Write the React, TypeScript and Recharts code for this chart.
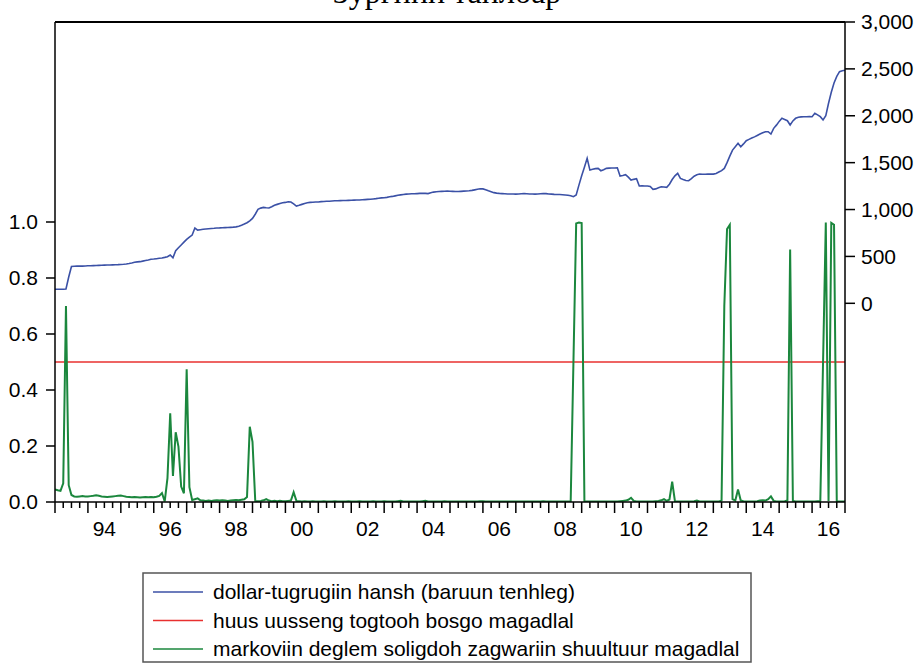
import { LineChart, Line, XAxis, YAxis, ReferenceLine } from "recharts"

const FONT = "'Liberation Sans', Arial, sans-serif"
const START_YEAR = 1993

// dollar-tugrug rate, monthly 1993M01..2017M01 (right axis)
const exchangeRate = [
  150, 150, 150, 150, 152, 280, 392, 395, 396, 396, 397, 398, // 1993
  400, 401, 402, 403, 405, 406, 407, 408, 409, 410, 411, 412, // 1994
  414, 416, 419, 424, 430, 437, 442, 444, 450, 456, 462, 469, // 1995
  472, 476, 480, 484, 490, 497, 515, 486, 560, 592, 622, 652, // 1996
  682, 705, 728, 803, 781, 785, 789, 792, 795, 798, 800, 803, // 1997
  804, 806, 807, 808, 810, 812, 815, 822, 832, 845, 859, 880, // 1998
  906, 950, 1002, 1015, 1023, 1019, 1016, 1030, 1045, 1055, 1065, 1072, // 1999
  1076, 1083, 1080, 1060, 1037, 1045, 1055, 1065, 1072, 1076, 1078, 1080, // 2000
  1081, 1084, 1085, 1088, 1089, 1091, 1093, 1094, 1095, 1096, 1097, 1098, // 2001
  1099, 1100, 1101, 1102, 1104, 1106, 1108, 1110, 1113, 1116, 1120, 1124, // 2002
  1126, 1130, 1136, 1140, 1146, 1152, 1156, 1160, 1164, 1166, 1168, 1168, // 2003
  1170, 1172, 1174, 1172, 1170, 1178, 1186, 1190, 1192, 1194, 1195, 1196, // 2004
  1195, 1194, 1193, 1192, 1194, 1196, 1198, 1200, 1204, 1210, 1216, 1222, // 2005
  1220, 1212, 1200, 1190, 1180, 1175, 1172, 1170, 1168, 1166, 1165, 1165, // 2006
  1164, 1166, 1168, 1170, 1168, 1166, 1165, 1164, 1165, 1168, 1170, 1170, // 2007
  1165, 1164, 1162, 1161, 1160, 1158, 1155, 1152, 1148, 1137, 1155, 1260, // 2008
  1360, 1450, 1546, 1421, 1430, 1436, 1439, 1414, 1425, 1439, 1442, 1443, // 2009
  1443, 1445, 1357, 1362, 1371, 1345, 1315, 1322, 1328, 1251, 1252, 1251, // 2010
  1251, 1245, 1215, 1220, 1232, 1243, 1240, 1237, 1270, 1320, 1360, 1386, // 2011
  1332, 1320, 1310, 1307, 1330, 1355, 1370, 1378, 1376, 1377, 1378, 1379, // 2012
  1378, 1385, 1400, 1415, 1439, 1500, 1570, 1634, 1670, 1706, 1670, 1700, // 2013
  1734, 1748, 1762, 1775, 1790, 1805, 1818, 1830, 1830, 1805, 1866, 1900, // 2014
  1940, 1973, 1960, 1947, 1901, 1945, 1973, 1985, 1988, 1990, 1990, 1992, // 2015
  1990, 2026, 2010, 1990, 1955, 2000, 2133, 2250, 2350, 2420, 2470, 2480, // 2016
  2485, // 2017
]

// markov switching filtered probability (left axis)
const regimeProb = [
  0.045, 0.042, 0.04, 0.067, 0.7, 0.06, 0.025, 0.02, 0.019, 0.02, 0.021, 0.02, // 1993
  0.02, 0.021, 0.022, 0.024, 0.022, 0.02, 0.019, 0.018, 0.019, 0.02, 0.021, 0.022, // 1994
  0.023, 0.021, 0.019, 0.018, 0.017, 0.018, 0.017, 0.016, 0.017, 0.018, 0.017, 0.018, // 1995
  0.017, 0.019, 0.022, 0.032, 0.002, 0.085, 0.317, 0.093, 0.249, 0.198, 0.055, 0.031, // 1996
  0.474, 0.053, 0.007, 0.01, 0.013, 0.006, 0.005, 0.004, 0.005, 0.004, 0.005, 0.006, // 1997
  0.005, 0.006, 0.005, 0.004, 0.005, 0.006, 0.007, 0.006, 0.008, 0.01, 0.018, 0.269, // 1998
  0.215, 0.004, 0.003, 0.004, 0.006, 0.01, 0.005, 0.003, 0.004, 0.003, 0.004, 0.003, // 1999
  0.003, 0.004, 0.005, 0.035, 0.004, 0.003, 0.002, 0.003, 0.002, 0.002, 0.003, 0.002, // 2000
  0.002, 0.002, 0.003, 0.002, 0.002, 0.002, 0.003, 0.002, 0.002, 0.002, 0.002, 0.003, // 2001
  0.002, 0.002, 0.002, 0.003, 0.002, 0.002, 0.002, 0.002, 0.003, 0.002, 0.002, 0.002, // 2002
  0.003, 0.002, 0.002, 0.002, 0.002, 0.003, 0.004, 0.002, 0.002, 0.002, 0.002, 0.002, // 2003
  0.002, 0.002, 0.003, 0.004, 0.002, 0.002, 0.002, 0.002, 0.002, 0.002, 0.003, 0.002, // 2004
  0.002, 0.002, 0.002, 0.002, 0.002, 0.002, 0.002, 0.002, 0.002, 0.002, 0.002, 0.003, // 2005
  0.003, 0.002, 0.002, 0.002, 0.002, 0.002, 0.002, 0.002, 0.002, 0.002, 0.002, 0.002, // 2006
  0.002, 0.002, 0.002, 0.002, 0.002, 0.002, 0.002, 0.002, 0.002, 0.002, 0.003, 0.002, // 2007
  0.002, 0.002, 0.002, 0.002, 0.002, 0.002, 0.002, 0.002, 0.003, 0.5, 0.995, 0.998, // 2008
  0.996, 0.002, 0.002, 0.002, 0.002, 0.002, 0.002, 0.002, 0.002, 0.002, 0.002, 0.002, // 2009
  0.002, 0.002, 0.003, 0.004, 0.005, 0.008, 0.015, 0.004, 0.002, 0.002, 0.002, 0.002, // 2010
  0.002, 0.002, 0.002, 0.003, 0.004, 0.006, 0.01, 0.004, 0.009, 0.073, 0.003, 0.002, // 2011
  0.002, 0.002, 0.002, 0.002, 0.002, 0.003, 0.005, 0.002, 0.002, 0.002, 0.002, 0.002, // 2012
  0.002, 0.002, 0.002, 0.005, 0.7, 0.975, 0.99, 0.01, 0.005, 0.045, 0.005, 0.003, // 2013
  0.002, 0.002, 0.002, 0.002, 0.003, 0.005, 0.006, 0.005, 0.01, 0.02, 0.004, 0.002, // 2014
  0.002, 0.002, 0.003, 0.005, 0.902, 0.004, 0.002, 0.002, 0.002, 0.002, 0.002, 0.002, // 2015
  0.002, 0.002, 0.003, 0.004, 0.5, 0.998, 0.004, 0.997, 0.99, 0.002, 0.002, 0.002, // 2016
  0.002, // 2017
]

const THRESHOLD = 0.5

const leftTicks = [0, 0.2, 0.4, 0.6, 0.8, 1.0]
const rightTicks = [0, 500, 1000, 1500, 2000, 2500, 3000]
const labelYears = [1994, 1996, 1998, 2000, 2002, 2004, 2006, 2008, 2010, 2012, 2014, 2016]
const yearLabels = ["94", "96", "98", "00", "02", "04", "06", "08", "10", "12", "14", "16"]

const legendItems = [
  { name: "dollar-tugrugiin hansh (baruun tenhleg)", color: "#3b51a6" },
  { name: "huus uusseng togtooh bosgo magadlal", color: "#e8302f" },
  { name: "markoviin deglem soligdoh zagwariin shuultuur magadlal", color: "#1b873d" },
]

const data = exchangeRate.map((rate, i) => ({
  t: START_YEAR + i / 12,
  rate,
  prob: regimeProb[i],
  threshold: THRESHOLD,
}))

const quarterTicks: number[] = []
for (let q = 0; q <= (2017 - START_YEAR) * 4; q++) quarterTicks.push(START_YEAR + q / 4)

const LEFT_MAX = 480 / 280

function XTick(props: any) {
  const { x, y, payload } = props
  const v = payload.value
  const yr = Math.floor(v + 1e-6)
  const frac = v - yr
  const major = Math.abs(frac) < 1e-6
  const idx = Math.abs(frac - 0.5) < 1e-6 ? labelYears.indexOf(yr) : -1
  return (
    <g>
      <line x1={x} x2={x} y1={y} y2={y + (major ? 11 : 6)} stroke="#000" strokeWidth={1.5} />
      {idx >= 0 && (
        <text x={x} y={y + 34} textAnchor="middle" fontSize={21} fontFamily={FONT} fill="#000">
          {yearLabels[idx]}
        </text>
      )}
    </g>
  )
}

export default function App() {
  return (
    <div style={{ position: "absolute", left: 0, top: 0, width: 921, height: 665, background: "#fff", overflow: "hidden" }}>
      <LineChart width={921} height={665} data={data} margin={{ top: 22, right: 0, bottom: 123, left: 0 }}>
        <XAxis
          dataKey="t"
          type="number"
          domain={[1993, 2017]}
          allowDataOverflow
          ticks={quarterTicks}
          interval={0}
          tick={<XTick />}
          tickLine={false}
          tickSize={0}
          tickMargin={0}
          height={40}
          axisLine={{ stroke: "#000", strokeWidth: 1.5 }}
        />
        <YAxis
          yAxisId="left"
          orientation="left"
          width={55}
          domain={[0, LEFT_MAX]}
          allowDataOverflow
          ticks={leftTicks}
          interval={0}
          tickFormatter={(v: number) => v.toFixed(1)}
          tickSize={9}
          tickMargin={8}
          tick={{ fill: "#000", fontSize: 21, fontFamily: FONT }}
          tickLine={{ stroke: "#000", strokeWidth: 1.5 }}
          axisLine={{ stroke: "#000", strokeWidth: 1.5 }}
        />
        <YAxis
          yAxisId="right"
          orientation="right"
          width={76}
          domain={[-2119, 3000]}
          allowDataOverflow
          ticks={rightTicks}
          interval={0}
          tickFormatter={(v: number) => v.toLocaleString("en-US")}
          tickSize={10}
          tickMargin={6}
          tick={{ fill: "#000", fontSize: 21, fontFamily: FONT }}
          tickLine={{ stroke: "#000", strokeWidth: 1.5 }}
          axisLine={{ stroke: "#000", strokeWidth: 1.5 }}
        />
        <ReferenceLine yAxisId="left" y={LEFT_MAX} stroke="#000" strokeWidth={2} />
        <Line yAxisId="right" dataKey="rate" type="linear" stroke={legendItems[0].color} strokeWidth={1.6} dot={false} isAnimationActive={false} />
        <Line yAxisId="left" dataKey="threshold" type="linear" stroke={legendItems[1].color} strokeWidth={1.5} dot={false} isAnimationActive={false} />
        <Line yAxisId="left" dataKey="prob" type="linear" stroke={legendItems[2].color} strokeWidth={2} dot={false} isAnimationActive={false} />
      </LineChart>
      <svg width={921} height={665} style={{ position: "absolute", left: 0, top: 0, pointerEvents: "none" }}>
        <text x={447} y={3} textAnchor="middle" fontSize={32} fontFamily="'Liberation Serif', 'Times New Roman', serif" fill="#000">
          Зургийн тайлбар
        </text>
        <rect x={143} y={573} width={608} height={89} fill="none" stroke="#555" strokeWidth={1.5} />
        {legendItems.map((item, i) => (
          <g key={item.name}>
            <line x1={153} x2={203} y1={592 + i * 28.5} y2={592 + i * 28.5} stroke={item.color} strokeWidth={1.5} />
            <text x={213} y={599 + i * 28.5} fontSize={21} fontFamily={FONT} fill="#000">
              {item.name}
            </text>
          </g>
        ))}
      </svg>
    </div>
  )
}
